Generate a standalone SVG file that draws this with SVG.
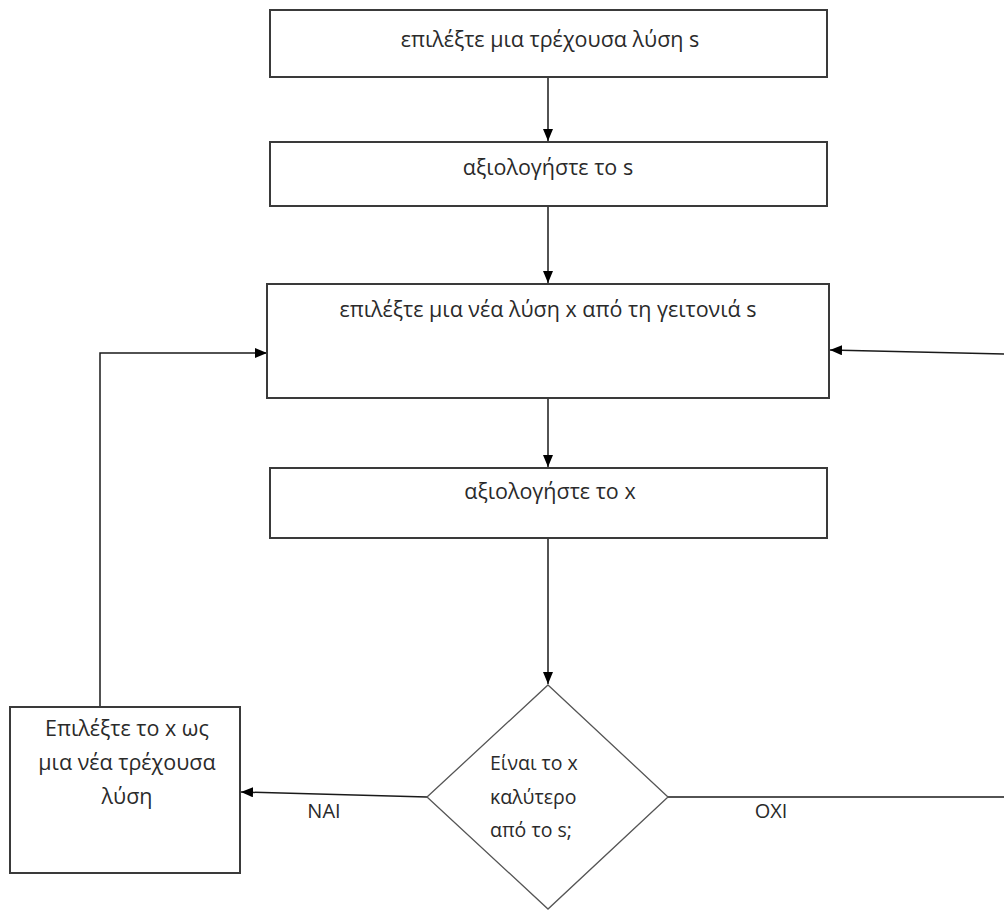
<svg xmlns="http://www.w3.org/2000/svg" width="1004" height="910" viewBox="0 0 1004 910">
  <style>
    .box { fill: #ffffff; stroke: #3a3a3a; stroke-width: 2; }
    .dia { fill: #ffffff; stroke: #555555; stroke-width: 1.3; }
    .lbl { font-family: "Open Sans", "Noto Sans", "DejaVu Sans", sans-serif; font-size: 21.5px; fill: #2a2a2a; }
    .small { font-size: 19.5px; }
    .mid { text-anchor: middle; }
    .edge { fill: none; stroke: #1a1a1a; stroke-width: 1.5; }
    .elbl { font-family: "Open Sans", "Noto Sans", sans-serif; font-size: 20px; fill: #2a2a2a; text-anchor: middle; }
  </style>
  <defs>
    <marker id="arrow" viewBox="0 0 12 10" refX="12" refY="5" markerWidth="12" markerHeight="10" markerUnits="userSpaceOnUse" orient="auto">
      <path d="M0,0 L12,5 L0,10 Z" fill="#000000"/>
    </marker>
  </defs>
  <rect width="1004" height="910" fill="#ffffff"/>

  <g id="connectors">
    <line class="edge" x1="548" y1="78" x2="548" y2="141" marker-end="url(#arrow)"/>
    <line class="edge" x1="548" y1="206" x2="548" y2="283" marker-end="url(#arrow)"/>
    <line class="edge" x1="548" y1="398" x2="548" y2="467" marker-end="url(#arrow)"/>
    <line class="edge" x1="548" y1="538" x2="548" y2="684" marker-end="url(#arrow)"/>
    <line class="edge" x1="427" y1="797" x2="241" y2="792" marker-end="url(#arrow)"/>
    <text class="elbl" x="324" y="818">NAI</text>
    <line class="edge" x1="668" y1="797" x2="1004" y2="797"/>
    <text class="elbl" x="771" y="818">OXI</text>
    <polyline class="edge" points="100,707 100,353 267,353" marker-end="url(#arrow)"/>
    <line class="edge" x1="1004" y1="354" x2="830" y2="350" marker-end="url(#arrow)"/>
  </g>

  <g id="n1">
    <rect class="box" x="270" y="10" width="557" height="67"/>
    <text class="lbl mid" x="550" y="47">επιλέξτε μια τρέχουσα λύση s</text>
  </g>
  <g id="n2">
    <rect class="box" x="270" y="142" width="557" height="64"/>
    <text class="lbl mid" x="548" y="175">αξιολογήστε το s</text>
  </g>
  <g id="n3">
    <rect class="box" x="267" y="284" width="562" height="114"/>
    <text class="lbl mid" x="548" y="317">επιλέξτε μια νέα λύση x από τη γειτονιά s</text>
  </g>
  <g id="n4">
    <rect class="box" x="270" y="468" width="557" height="70"/>
    <text class="lbl mid" x="550" y="499">αξιολογήστε το x</text>
  </g>
  <g id="n5">
    <polygon class="dia" points="548,685 668,797 548,909 427,797"/>
    <text class="lbl small" x="490" y="770">Είναι το  x</text>
    <text class="lbl small" x="490" y="804">καλύτερο</text>
    <text class="lbl small" x="490" y="837">από το s;</text>
  </g>
  <g id="n6">
    <rect class="box" x="10" y="707" width="230" height="166"/>
    <text class="lbl mid" x="127" y="736">Επιλέξτε το x ως</text>
    <text class="lbl mid" x="127" y="770">μια νέα τρέχουσα</text>
    <text class="lbl mid" x="127" y="804">λύση</text>
  </g>
</svg>
